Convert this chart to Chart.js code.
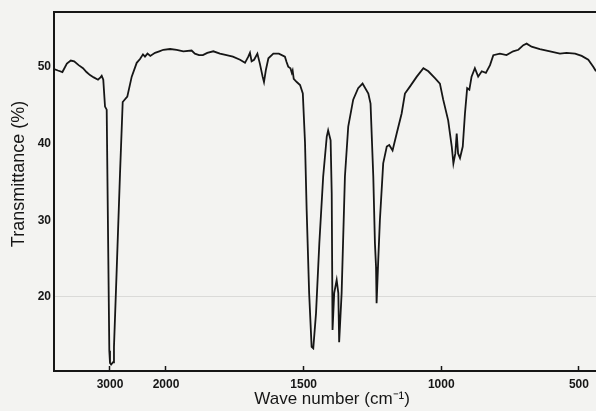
<!DOCTYPE html>
<html>
<head>
<meta charset="utf-8">
<script src="https://cdn.jsdelivr.net/npm/chart.js@4.4.1/dist/chart.umd.min.js"></script>
<style>
  html, body { margin: 0; padding: 0; background: #f3f3f1; }
  #wrap { width: 596px; height: 411px; position: relative; }
</style>
</head>
<body>
<div id="wrap"><canvas id="chart-ir"></canvas></div>
<script>
// IR spectrum (wavenumber in cm-1, transmittance in %)
const WAVENUMBER = [
  4000, 3930, 3850, 3770, 3700, 3640, 3560, 3482, 3420, 3357, 3290, 3214, 3170, 3148, 3120,
  3089, 3059, 3030, 3012, 3000, 2980, 2945, 2929, 2880, 2821, 2773, 2691, 2612, 2523, 2464,
  2411, 2375, 2330, 2280, 2196, 2120, 2048,
  1985, 1961, 1937, 1907, 1895, 1880, 1866, 1850, 1828, 1804, 1780, 1757, 1731, 1713, 1701,
  1695, 1689, 1680, 1668, 1659, 1649, 1644, 1637, 1628, 1610, 1590, 1568, 1562, 1556, 1548,
  1543, 1540, 1536, 1525, 1513, 1503, 1495, 1489, 1480, 1471, 1465, 1455, 1443, 1429, 1416,
  1411, 1402, 1398, 1395, 1389, 1380, 1374, 1371, 1362, 1350, 1338, 1320, 1302, 1286, 1265,
  1257, 1247, 1241, 1237, 1235, 1229, 1223, 1211, 1198, 1189, 1177, 1162, 1144, 1132, 1114,
  1089, 1065, 1047, 1023, 1005, 993, 975, 962, 956, 949, 944, 939, 932, 922, 914,
  906, 898, 890, 878, 866, 853, 838, 823, 811, 787, 763, 739, 720, 702, 690,
  672, 642, 605, 569, 545, 514, 490, 466, 448, 438
];
const TRANSMITTANCE = [
  49.7, 49.5, 49.3, 50.4, 50.8, 50.7, 50.2, 49.8, 49.3, 48.9, 48.6, 48.3, 48.6, 48.8, 48.3,
  44.8, 44.4, 25.0, 13.0, 11.4, 11.2, 11.5, 13.5, 23.6, 36.1, 45.4, 46.1, 48.7, 50.5, 51.0,
  51.6, 51.3, 51.7, 51.4, 51.8, 52.0, 52.2,
  52.3, 52.2, 52.0, 52.1, 51.7, 51.5, 51.5, 51.8, 52.0, 51.7, 51.5, 51.3, 50.9, 50.5, 51.3,
  51.8, 50.7, 50.9, 51.7, 50.4, 48.7, 48.0, 49.6, 51.1, 51.7, 51.7, 51.3, 50.6, 50.0, 49.8,
  49.2, 49.5, 48.4, 48.0, 47.6, 46.5, 40.1, 31.3, 20.5, 13.5, 13.3, 17.9, 27.0, 35.7, 40.9,
  41.7, 40.4, 33.5, 15.7, 20.5, 22.2, 20.5, 14.1, 20.5, 35.7, 42.2, 45.7, 47.2, 47.8, 46.5,
  45.2, 35.7, 27.0, 23.9, 19.2, 24.8, 30.0, 37.4, 39.6, 39.8, 39.1, 41.3, 43.9, 46.5, 47.4,
  48.7, 49.8, 49.4, 48.5, 47.8, 45.7, 43.0, 39.6, 37.4, 38.7, 41.3, 38.7, 38.1, 39.6, 43.9,
  47.2, 47.0, 48.7, 49.8, 48.7, 49.4, 49.2, 50.2, 51.5, 51.7, 51.5, 52.0, 52.2, 52.8, 53.0,
  52.6, 52.3, 52.0, 51.7, 51.8, 51.7, 51.4, 50.9, 50.0, 49.4
];
const X_TICKS = [3000, 2000, 1500, 1000, 500];
const Y_TICKS = [20, 30, 40, 50];

// chart paper is compressed above 2000 cm-1
const HIGH_K = 0.2034;
const toAxis = (w) => (w <= 2000 ? w : 2000 + (w - 2000) * HIGH_K);
const fromAxis = (u) => (u <= 2000 ? u : 2000 + (u - 2000) / HIGH_K);

const INK = '#161616';
const FAMILY = "'Liberation Sans', Arial, sans-serif";
const tickFont = { family: FAMILY, size: 12, weight: 'bold' };

// fixed box sizes so the plot frame lands where the paper frame is
const fixHeight = (h) => (s) => { s.height = h; s.paddingLeft = 0; s.paddingRight = 0; };

new Chart(document.getElementById('chart-ir'), {
  type: 'line',
  data: {
    datasets: [{
      data: WAVENUMBER.map((w, i) => ({ x: toAxis(w), y: TRANSMITTANCE[i] })),
      borderColor: INK,
      borderWidth: 1.8,
      pointRadius: 0,
      tension: 0,
      fill: false,
    }]
  },
  options: {
    responsive: true,
    maintainAspectRatio: false,
    animation: false,
    layout: { padding: 0 },
    plugins: {
      legend: { display: false },
      tooltip: { enabled: false }
    },
    scales: {
      x: {
        type: 'linear',
        position: 'bottom',
        reverse: true,
        min: toAxis(438),
        max: toAxis(4000),
        afterFit: fixHeight(40),
        afterBuildTicks: (s) => { s.ticks = X_TICKS.map(w => ({ value: toAxis(w) })); },
        grid: { drawOnChartArea: false, drawTicks: true, tickLength: -5, tickColor: INK, tickWidth: 1.5 },
        border: { display: true, color: INK, width: 2 },
        ticks: {
          color: INK,
          font: tickFont,
          padding: 11,
          maxRotation: 0,
          autoSkip: false,
          callback: (v) => String(Math.round(fromAxis(v)))
        },
        title: {
          display: true,
          text: '   Wave number (cm⁻¹)',
          color: INK,
          font: { family: FAMILY, size: 17 },
          padding: { top: 0, bottom: 1 }
        }
      },
      xTop: {
        type: 'linear',
        position: 'top',
        afterFit: fixHeight(12),
        ticks: { display: false },
        grid: { display: false },
        border: { display: true, color: INK, width: 2 }
      },
      y: {
        min: 10.36,
        max: 57.12,
        afterFit: (s) => { s.width = 54; s.paddingTop = 0; s.paddingBottom = 0; },
        afterBuildTicks: (s) => { s.ticks = Y_TICKS.map(v => ({ value: v })); },
        grid: {
          drawTicks: false,
          color: (ctx) => (ctx.tick && ctx.tick.value === 20 ? 'rgba(0,0,0,0.10)' : 'rgba(0,0,0,0)')
        },
        border: { display: true, color: INK, width: 2 },
        ticks: { color: INK, font: tickFont, padding: 3 },
        title: {
          display: true,
          text: '       Transmittance (%)',
          color: INK,
          font: { family: FAMILY, size: 18 },
          padding: { top: 8, bottom: 0 }
        }
      }
    }
  }
});
</script>
</body>
</html>
